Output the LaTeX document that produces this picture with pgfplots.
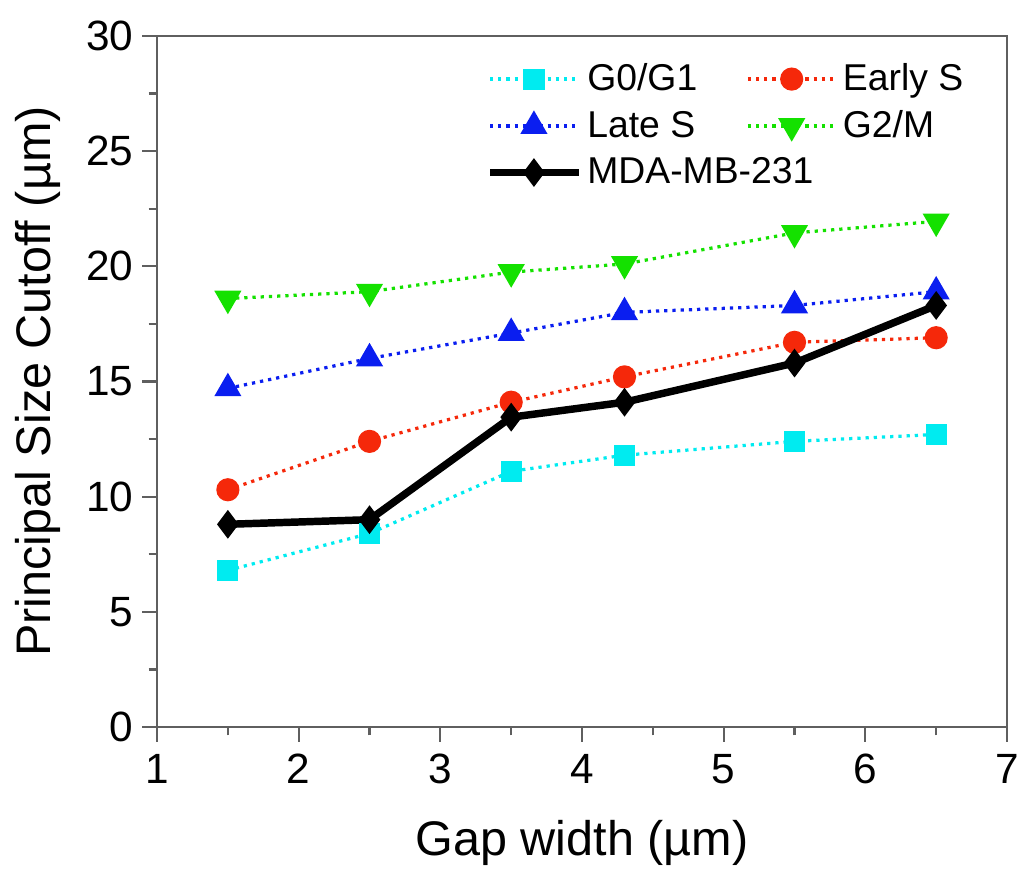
\documentclass[border=0pt]{standalone}
\usepackage{fontspec}
\setmainfont{Liberation Sans}
\usepackage{pgfplots}
\pgfplotsset{compat=1.18}

\definecolor{cG0}{RGB}{0,235,240}
\definecolor{cES}{RGB}{245,40,10}
\definecolor{cLS}{RGB}{10,30,240}
\definecolor{cGM}{RGB}{20,225,0}
\definecolor{axgray}{RGB}{95,95,95}

\begin{document}
\begin{tikzpicture}
\begin{axis}[
  scale only axis,
  width=12cm, height=9.756cm,
  xmin=1, xmax=7, ymin=0, ymax=30,
  xtick={1,2,...,7}, ytick={0,5,...,30},
  minor x tick num=1, minor y tick num=1,
  xtick pos=bottom, ytick pos=left,
  tick align=outside,
  major tick length=0.21cm, minor tick length=0.12cm,
  tick style={axgray, line width=0.9pt},
  axis line style={axgray, line width=1pt},
  /pgf/number format/assume math mode=true,
  ticklabel style={font=\fontsize{17}{20}\selectfont},
  xticklabel style={yshift=-0.05cm},
  xlabel={Gap width (µm)},
  ylabel={Principal Size Cutoff (µm)},
  label style={font=\fontsize{19.5}{23}\selectfont},
  xlabel style={at={(axis description cs:0.5,-0.168)}, anchor=center},
  ylabel style={at={(axis description cs:-0.14,0.5)}, anchor=center},
  legend columns=2,
  legend cell align=left,
  legend style={draw=none, fill=none, at={(0.378,0.975)}, anchor=north west,
    font=\fontsize{15}{18}\selectfont, row sep=2.5pt,
    /tikz/every even column/.append style={column sep=0.62cm}},
  legend image code/.code={
    \draw[mark repeat=2,mark phase=2] plot coordinates {(0cm,0cm) (0.62cm,0cm) (1.25cm,0cm)};},
]
\addplot[cG0, dotted, line width=1.3pt, mark=square*, mark size=3.6pt, mark options={solid}] coordinates {
  (1.5,6.8) (2.5,8.4) (3.5,11.1) (4.3,11.8) (5.5,12.4) (6.5,12.7)
};
\addlegendentry{G0/G1}
\addplot[cES, dotted, line width=1.3pt, mark=*, mark size=4pt, mark options={solid}] coordinates {
  (1.5,10.3) (2.5,12.4) (3.5,14.1) (4.3,15.2) (5.5,16.7) (6.5,16.9)
};
\addlegendentry{Early S}
\addplot[cLS, dotted, line width=1.3pt, mark=triangle*, mark size=5pt, mark options={solid}] coordinates {
  (1.5,14.7) (2.5,16.0) (3.5,17.1) (4.3,18.0) (5.5,18.3) (6.5,18.9)
};
\addlegendentry{Late S}
\addplot[cGM, dotted, line width=1.3pt, mark=triangle*, mark size=5pt, mark options={solid, rotate=180}] coordinates {
  (1.5,18.6) (2.5,18.9) (3.5,19.75) (4.3,20.1) (5.5,21.45) (6.5,21.95)
};
\addlegendentry{G2/M}
\addplot[black, line width=3pt, mark=diamond*, mark size=3.3pt, mark options={solid}] coordinates {
  (1.5,8.8) (2.5,9.0) (3.5,13.45) (4.3,14.1) (5.5,15.8) (6.5,18.3)
};
\addlegendentry{\rlap{MDA-MB-231}}
\end{axis}
\pgfresetboundingbox
\path ([shift={(-2.217cm,-2.160cm)}]current axis.south west) rectangle ([shift={(0.240cm,0.508cm)}]current axis.north east);
\end{tikzpicture}
\end{document}
